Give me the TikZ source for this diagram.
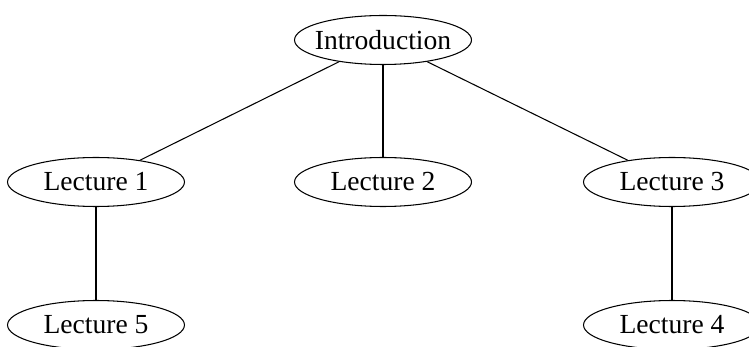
\documentclass[tikz,border=0pt]{standalone}
\usepackage{fontspec}
\setmainfont{Liberation Serif}
\usetikzlibrary{shapes.geometric}
\begin{document}
\begin{tikzpicture}[x=0.02cm,y=-0.02cm,
  topic/.style={ellipse,draw,line width=0.6pt,inner ysep=0pt,inner xsep=-3.5pt,minimum width=3.54cm,minimum height=0.98cm,font=\fontsize{15.7}{18}\selectfont},
  link/.style={line width=0.6pt}]
\useasboundingbox (0,0) rectangle (749,347);
\node[topic] (intro) at (383,40) {Introduction};
\node[topic] (l1) at (96,182) {Lecture 1};
\node[topic] (l2) at (383,182) {Lecture 2};
\node[topic] (l3) at (672,182) {Lecture 3};
\node[topic] (l5) at (96,325) {Lecture 5};
\node[topic] (l4) at (672,325) {Lecture 4};
\draw[link] (intro) -- (l1);
\draw[link] (intro) -- (l2);
\draw[link] (intro) -- (l3);
\draw[link] (l1) -- (l5);
\draw[link] (l3) -- (l4);
\end{tikzpicture}
\end{document}
